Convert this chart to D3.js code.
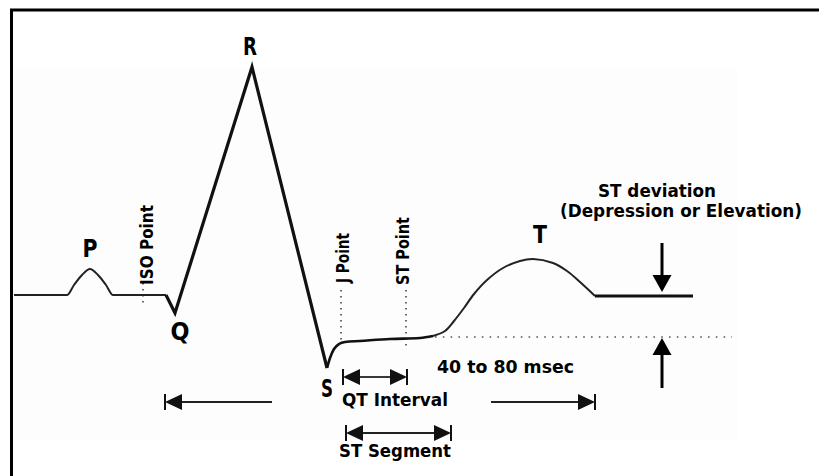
<!DOCTYPE html>
<html><head><meta charset="utf-8">
<script src="https://cdn.jsdelivr.net/npm/d3@7"></script>
<style>html,body{margin:0;padding:0;background:#fff;overflow:hidden}</style>
</head><body>
<svg id="chart" width="819" height="476"></svg>
<script>
// ---- data (time in ms, amplitude in mV) ----
const pWave = [[0,0],[53,0],[60,0.1],[68,0.2],[76,0.26],[84,0.2],[92,0.1],[99,0],[152,0]];
const qrs = [[152,0],[161,-0.18],[238,2.28],[313,-0.73]];
const stSegment = [[313,-0.73],[316,-0.63],[320,-0.54],[325,-0.49],[331,-0.47],[346,-0.46],[376,-0.44],[406,-0.43],[419,-0.41]];
const tWave = [[419,-0.41],[431,-0.36],[440,-0.26],[450,-0.13],[460,0.01],[473,0.15],[489,0.27],[506,0.34],[519,0.36],[539,0.32],[553,0.24],[566,0.13],[581,-0.01]];
const tail = [[581,-0.01],[679,-0.01]];
const waveLabels = [["P",76,0.38,15],["Q",166,-0.45,19],["R",236,2.40,14],["S",313,-1.02,12],["T",526,0.52,14]];
const pointMarkers = [["ISO Point",129,0.12,-0.12],["J Point",327,0.05,-0.45],["ST Point",392,0.05,-0.53]];
const isoLevel = [-0.42, 421, 718];
const intervals = [[151,258,-1.07,true,false],[477,581,-1.07,false,true],[329,393,-0.82,true,true],[332,437,-1.38,true,true]];
const deviationArrows = [[648,0.52,0.03],[648,-0.93,-0.43]];
const noteLabels = [["ST deviation",584,0.98,118,18.5],["(Depression or Elevation)",546,0.78,242,17],["40 to 80 msec",423,-0.78,137,18.5],["QT Interval",328,-1.11,106,18.5],["ST Segment",325,-1.62,112,18.5]];
const pointLabels = [["ISO Point",139,0.10,80],["J Point",335,0.12,50],["ST Point",395,0.10,68]];

const svg = d3.select("#chart");
const x = d3.scaleLinear().domain([0,805]).range([14,819]);
const y = d3.scaleLinear().domain([-1.8,2.85]).range([475,10]);
const FONT = "'DejaVu Sans', sans-serif";

// faint backdrop
svg.append("rect").attr("x",12).attr("y",y(2.28)).attr("width",x(723)-12).attr("height",y(-1.45)-y(2.28)).attr("fill","#fdfdfd");
// frame (only top and left visible)
svg.append("rect").attr("x",11.5).attr("y",10).attr("width",900).attr("height",600).attr("fill","none").attr("stroke","#000").attr("stroke-width",3);

const line = d3.line().x(d=>x(d[0])).y(d=>y(d[1]));
const smooth = d3.line().x(d=>x(d[0])).y(d=>y(d[1])).curve(d3.curveMonotoneX);
const cat = d3.line().x(d=>x(d[0])).y(d=>y(d[1])).curve(d3.curveCatmullRom.alpha(0.5));

// dotted markers
pointMarkers.forEach(m=>{
  svg.append("line").attr("x1",x(m[1])).attr("x2",x(m[1])).attr("y1",y(m[2])).attr("y2",y(m[3]))
    .attr("stroke","#444").attr("stroke-width",1.6).attr("stroke-dasharray","1.6,4.4");
});
svg.append("line").attr("x1",x(isoLevel[1])).attr("x2",x(isoLevel[2])).attr("y1",y(isoLevel[0])).attr("y2",y(isoLevel[0]))
  .attr("stroke","#555").attr("stroke-width",1.6).attr("stroke-dasharray","1.6,6.2");

// waveform
svg.append("path").attr("d",smooth(pWave)).attr("fill","none").attr("stroke","#222").attr("stroke-width",2);
svg.append("path").attr("d",line(qrs)).attr("fill","none").attr("stroke","#111").attr("stroke-width",3.2).attr("stroke-linejoin","miter");
svg.append("path").attr("d",smooth(stSegment)).attr("fill","none").attr("stroke","#111").attr("stroke-width",2.6);
svg.append("path").attr("d",cat(tWave)).attr("fill","none").attr("stroke","#222").attr("stroke-width",2);
svg.append("path").attr("d",line(tail)).attr("fill","none").attr("stroke","#111").attr("stroke-width",3.2);

// interval arrows
const HL = 17, HH = 8;
intervals.forEach(iv=>{
  const x0 = x(iv[0]), x1 = x(iv[1]), yy = y(iv[2]);
  const g = svg.append("g");
  g.append("line").attr("x1",x0+(iv[3]?HL:0)).attr("x2",x1-(iv[4]?HL:0)).attr("y1",yy).attr("y2",yy)
    .attr("stroke","#222").attr("stroke-width",1.8);
  if(iv[3]){
    g.append("path").attr("d",`M${x0},${yy}L${x0+HL},${yy-HH}L${x0+HL},${yy+HH}Z`).attr("fill","#111");
    g.append("line").attr("x1",x0).attr("x2",x0).attr("y1",yy-HH).attr("y2",yy+HH).attr("stroke","#111").attr("stroke-width",2);
  }
  if(iv[4]){
    g.append("path").attr("d",`M${x1},${yy}L${x1-HL},${yy-HH}L${x1-HL},${yy+HH}Z`).attr("fill","#111");
    g.append("line").attr("x1",x1).attr("x2",x1).attr("y1",yy-HH).attr("y2",yy+HH).attr("stroke","#111").attr("stroke-width",2);
  }
});

// deviation arrows
deviationArrows.forEach(a=>{
  const xx = x(a[0]), yt = y(a[1]), yh = y(a[2]);
  const dir = yh > yt ? 1 : -1;
  svg.append("line").attr("x1",xx).attr("x2",xx).attr("y1",yt).attr("y2",yh-dir*16).attr("stroke","#000").attr("stroke-width",3);
  svg.append("path").attr("d",`M${xx},${yh}L${xx-9.5},${yh-dir*17}L${xx+9.5},${yh-dir*17}Z`).attr("fill","#000");
});

// labels
waveLabels.forEach(l=>{
  svg.append("text").attr("x",x(l[1])-l[3]/2).attr("y",y(l[2]))
    .attr("textLength",l[3]).attr("lengthAdjust","spacingAndGlyphs")
    .attr("font-family",FONT).attr("font-weight","bold").attr("font-size",24).attr("fill","#000").text(l[0]);
});
noteLabels.forEach(l=>{
  svg.append("text").attr("x",x(l[1])).attr("y",y(l[2])).attr("textLength",l[3]).attr("lengthAdjust","spacingAndGlyphs")
    .attr("font-family",FONT).attr("font-weight","bold").attr("font-size",l[4]).attr("fill","#000").text(l[0]);
});
pointLabels.forEach(l=>{
  const px = x(l[1]), py = y(l[2]);
  svg.append("text").attr("transform",`translate(${px},${py}) rotate(-90)`).attr("x",0).attr("y",0)
    .attr("textLength",l[3]).attr("lengthAdjust","spacingAndGlyphs")
    .attr("font-family",FONT).attr("font-weight","bold").attr("font-size",17).attr("fill","#000").text(l[0]);
});
</script>
</body></html>
